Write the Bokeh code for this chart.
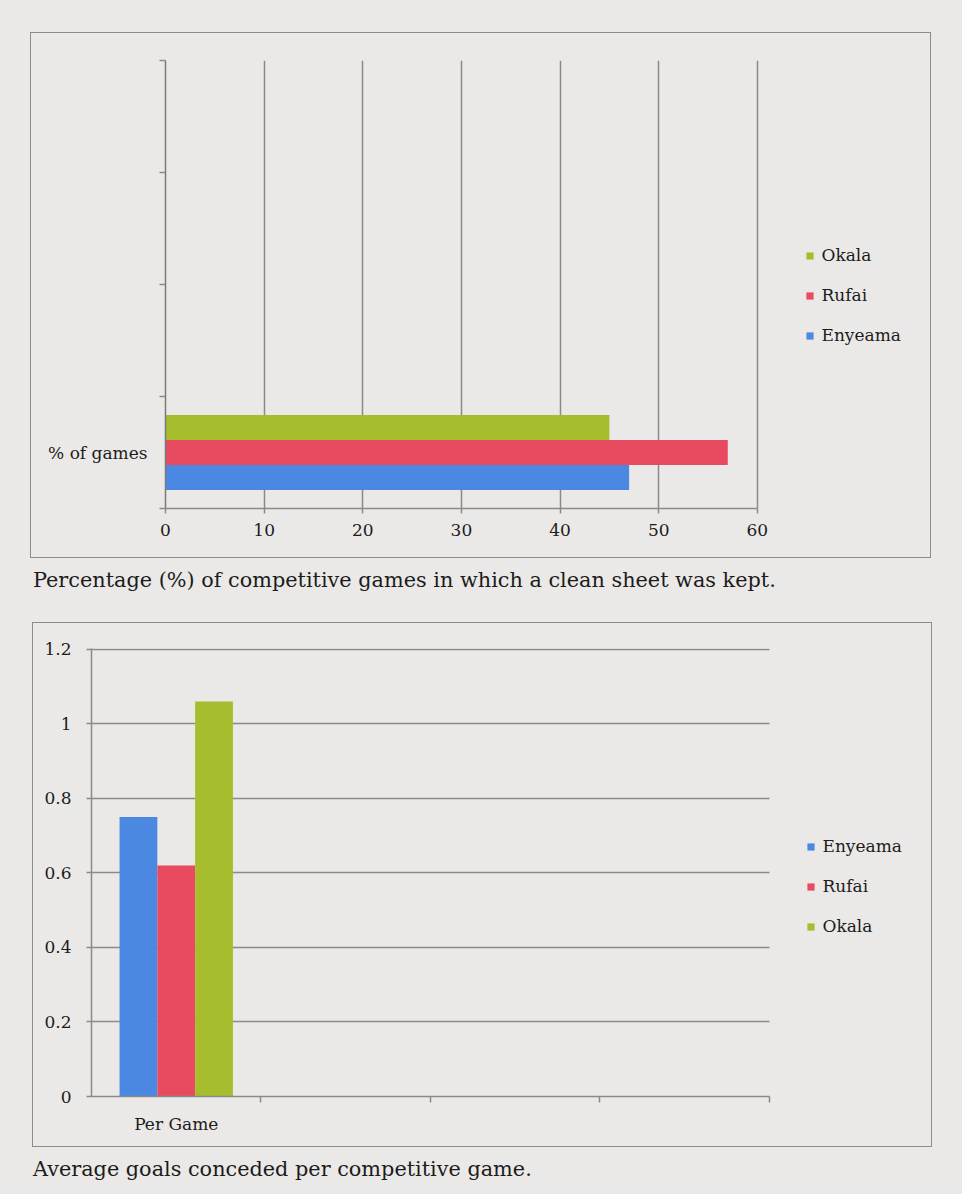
from bokeh.plotting import figure
from bokeh.models import ColumnDataSource, FixedTicker, Legend, LegendItem, Div, Range1d
from bokeh.layouts import column
from bokeh.embed import file_html
from bokeh.resources import INLINE

# ---------------- data ----------------
players = ["Enyeama", "Rufai", "Okala"]
colors = ["#4a88e2", "#e84a60", "#a6be2d"]
clean_sheet_pct = [47, 57, 45]
goals_per_game = [0.75, 0.62, 1.06]
cat1 = "% of games"
cat2 = "Per Game"
x1_ticks = [0, 10, 20, 30, 40, 50, 60]
y1_slots = [0, 1, 2, 3, 4]
x2_slots = [0, 1, 2, 3, 4]
y2_ticks = [0, 0.2, 0.4, 0.6, 0.8, 1.0, 1.2]
y2_labels = ["0", "0.2", "0.4", "0.6", "0.8", "1", "1.2"]
legend1_order = ["Okala", "Rufai", "Enyeama"]
legend2_order = ["Enyeama", "Rufai", "Okala"]
caption1 = "Percentage (%) of competitive games in which a clean sheet was kept."
caption2 = "Average goals conceded per competitive game."

# ---------------- style ----------------
BG = "#ebe9e7"
FONT = "DejaVu Serif"
TXT = "#1c1c1c"
LINE = "#8a8a8a"
BOX = "1.5px solid #8c8c8c"
BAR = 0.223          # bar thickness as fraction of a category slot
offsets = [-BAR, 0.0, BAR]

# the frame extends to the right over the legend area; the axis itself
# only covers its own part (axis.bounds)
FRAME1_W, AXIS1_W = 754.0, 589.5
FRAME2_W, AXIS2_W = 829.0, 675.5


def legend(items, loc):
    return Legend(items=items, location=loc, glyph_width=9, glyph_height=9,
                  label_standoff=8, spacing=20, padding=0, margin=0,
                  border_line_color=None, background_fill_alpha=0,
                  label_text_font=FONT, label_text_font_size="17px",
                  label_text_color=TXT)


def caption(text):
    return Div(text=text, width=920, height=30, margin=(8, 0, 0, 33),
               styles={"font-family": FONT, "font-size": "20.8px", "color": TXT,
                       "white-space": "nowrap"})


# ================= chart 1: horizontal bars =================
x1_end = max(x1_ticks) * FRAME1_W / AXIS1_W
p1 = figure(width=901, height=526, x_range=Range1d(0, x1_end), y_range=Range1d(0, 4),
            output_backend="svg", toolbar_location=None,
            min_border_left=134, min_border_right=10, min_border_top=27, min_border_bottom=51,
            background_fill_color=BG, border_fill_color=BG, outline_line_color=None,
            styles={"border": BOX}, margin=(32, 0, 0, 30))

r1 = {}
for name, col, val, off in zip(players, colors, clean_sheet_pct, offsets):
    src = ColumnDataSource(dict(y=[0.5 + off], v=[val]))
    r1[name] = p1.hbar(y="y", left=0, right="v", height=BAR, source=src,
                       fill_color=col, line_color=None)

ax = p1.xaxis[0]
ax.ticker = FixedTicker(ticks=x1_ticks, minor_ticks=[])
ax.bounds = (min(x1_ticks), max(x1_ticks))
ax.major_tick_out = 5
ax.major_tick_in = 0
ax.axis_line_color = LINE
ax.axis_line_width = 1.5
ax.major_tick_line_color = LINE
ax.major_tick_line_width = 1.5
ax.major_label_text_font = FONT
ax.major_label_text_font_size = "17px"
ax.major_label_text_color = TXT
ax.major_label_standoff = 10

ay = p1.yaxis[0]
ay.ticker = FixedTicker(ticks=[0.5], minor_ticks=y1_slots)
ay.major_label_overrides = {0.5: cat1}
ay.major_tick_out = 0
ay.major_tick_in = 0
ay.minor_tick_out = 6
ay.minor_tick_in = 0
ay.minor_tick_line_color = LINE
ay.minor_tick_line_width = 1.5
ay.axis_line_color = "#7a7a7a"
ay.axis_line_width = 1.5
ay.major_label_text_font = FONT
ay.major_label_text_font_size = "17px"
ay.major_label_text_color = TXT
ay.major_label_standoff = 12

p1.xgrid.ticker = FixedTicker(ticks=x1_ticks)
p1.xgrid.grid_line_color = LINE
p1.xgrid.grid_line_width = 1.5
p1.ygrid.grid_line_color = None

p1.add_layout(legend([LegendItem(label=n, renderers=[r1[n]]) for n in legend1_order],
                     (639.5, 163)), "center")

root1 = column(p1, caption(caption1), spacing=0, width=962, height=600,
               styles={"background-color": BG})

# ================= chart 2: vertical bars =================
x2_end = max(x2_slots) * FRAME2_W / AXIS2_W
p2 = figure(width=900, height=525, x_range=Range1d(0, x2_end), y_range=Range1d(0, 1.2025),
            output_backend="svg", toolbar_location=None,
            min_border_left=58, min_border_right=10, min_border_top=25, min_border_bottom=52,
            background_fill_color=BG, border_fill_color=BG, outline_line_color=None,
            styles={"border": BOX}, margin=(22, 0, 0, 32))

r2 = {}
for name, col, val, off in zip(players, colors, goals_per_game, offsets):
    src = ColumnDataSource(dict(x=[0.5 + off], v=[val]))
    r2[name] = p2.vbar(x="x", bottom=0, top="v", width=BAR, source=src,
                       fill_color=col, line_color=None)

bx = p2.xaxis[0]
bx.ticker = FixedTicker(ticks=[0.5], minor_ticks=x2_slots[1:])
bx.bounds = (min(x2_slots), max(x2_slots))
bx.major_label_overrides = {0.5: cat2}
bx.major_tick_out = 0
bx.major_tick_in = 0
bx.minor_tick_out = 6
bx.minor_tick_in = 0
bx.minor_tick_line_color = LINE
bx.minor_tick_line_width = 1.5
bx.axis_line_color = LINE
bx.axis_line_width = 1.5
bx.major_label_text_font = FONT
bx.major_label_text_font_size = "17px"
bx.major_label_text_color = TXT
bx.major_label_standoff = 11

by = p2.yaxis[0]
by.ticker = FixedTicker(ticks=y2_ticks, minor_ticks=[])
by.major_label_overrides = dict(zip(y2_ticks, y2_labels))
by.major_tick_out = 5
by.major_tick_in = 0
by.major_tick_line_color = LINE
by.major_tick_line_width = 1.5
by.axis_line_color = LINE
by.axis_line_width = 1.5
by.major_label_text_font = FONT
by.major_label_text_font_size = "17px"
by.major_label_text_color = TXT
by.major_label_standoff = 15

g2 = p2.ygrid[0]
g2.ticker = FixedTicker(ticks=y2_ticks)
g2.grid_line_color = LINE
g2.grid_line_width = 1.5
if "cross_bounds" in g2.properties():
    g2.cross_bounds = (min(x2_slots), max(x2_slots))
else:
    g2.grid_line_color = None
    p2.segment(x0=min(x2_slots), x1=max(x2_slots), y0=y2_ticks[1:], y1=y2_ticks[1:],
               line_color=LINE, line_width=1.5, level="underlay")
p2.xgrid.grid_line_color = None

p2.add_layout(legend([LegendItem(label=n, renderers=[r2[n]]) for n in legend2_order],
                     (714.5, 160)), "center")

root2 = column(p2, caption(caption2), spacing=0, width=962, height=594,
               styles={"background-color": BG})

open("out.html", "w").write(file_html([root1, root2], INLINE))
